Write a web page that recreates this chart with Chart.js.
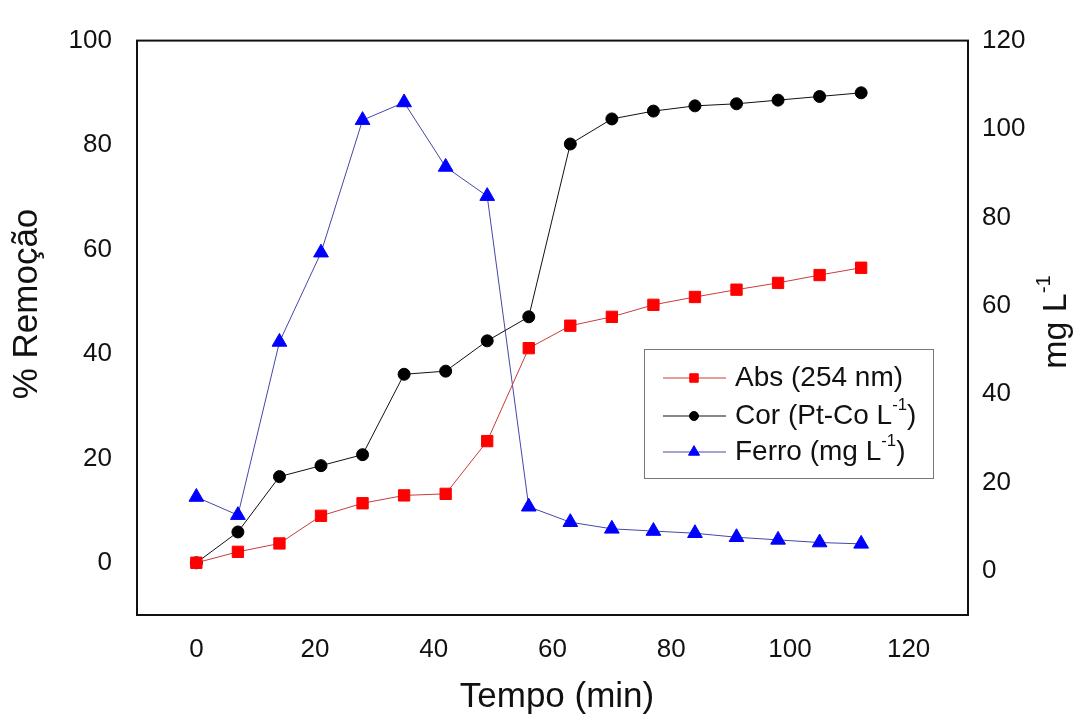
<!DOCTYPE html>
<html>
<head>
<meta charset="utf-8">
<script src="https://cdn.jsdelivr.net/npm/chart.js@4"></script>
<style>
  body { margin: 0; background: #fff; }
  #wrap { width: 1077px; height: 719px; }
</style>
</head>
<body>
<div id="wrap"><canvas id="grafico" width="1077" height="719"></canvas></div>
<script>
// tempo (min)
var tempo = [0, 7, 14, 21, 28, 35, 42, 49, 56, 63, 70, 77, 84, 91, 98, 105, 112];
// % remoção
var abs254 = [0, 2.1, 3.7, 9.0, 11.4, 12.9, 13.2, 23.3, 41.1, 45.4, 47.1, 49.4, 50.9, 52.3, 53.6, 55.1, 56.5];
var cor = [0, 5.9, 16.5, 18.6, 20.7, 36.1, 36.7, 42.5, 47.1, 80.2, 85.0, 86.5, 87.5, 87.9, 88.6, 89.3, 90.0];
// mg L-1
var ferro = [16.7, 12.6, 51.8, 72.0, 102.0, 106.0, 91.4, 84.8, 14.5, 11.0, 9.5, 9.0, 8.5, 7.6, 7.0, 6.4, 6.1];

var xTicks = [0, 20, 40, 60, 80, 100, 120];
var yTicks = [0, 20, 40, 60, 80, 100];
var y1Ticks = [0, 20, 40, 60, 80, 100, 120];

var fonte = "'Liberation Sans', Arial, sans-serif";

function pontos(ys) {
    return tempo.map(function (t, i) { return { x: t, y: ys[i] }; });
}

function soTicks(lista) {
    return function (scale) {
        scale.ticks = lista.map(function (v) { return { value: v }; });
    };
}

function largura(ctx, partes, tam) {
    var larg = 0;
    partes.forEach(function (p) {
        ctx.font = (p[1] ? tam * 0.6 : tam) + "px " + fonte;
        larg += ctx.measureText(p[0]).width;
    });
    return larg;
}

// texto com sobrescrito, ex. [["mg L", false], ["-1", true]], começa em x
function textoRico(ctx, partes, x, y, tam) {
    var cx = x;
    ctx.textAlign = "left";
    ctx.textBaseline = "middle";
    partes.forEach(function (p) {
        ctx.font = (p[1] ? tam * 0.6 : tam) + "px " + fonte;
        ctx.fillText(p[0], cx, p[1] ? y - tam * 0.38 : y);
        cx += ctx.measureText(p[0]).width;
    });
}

var extras = {
    id: 'extras',
    afterDraw: function (chart) {
        var ctx = chart.ctx;
        var a = chart.chartArea;
        ctx.save();
        // moldura
        ctx.strokeStyle = "#111";
        ctx.lineWidth = 2;
        ctx.strokeRect(a.left, a.top, a.right - a.left, a.bottom - a.top);

        ctx.fillStyle = "#111";
        // títulos dos eixos
        ctx.font = "35px " + fonte;
        ctx.textAlign = "center";
        ctx.textBaseline = "middle";
        ctx.fillText("Tempo (min)", 557, 697);

        ctx.save();
        ctx.translate(27, 304);
        ctx.rotate(-Math.PI / 2);
        ctx.font = "35px " + fonte;
        ctx.textAlign = "center";
        ctx.fillText("% Remoção", 0, 0);
        ctx.restore();

        ctx.save();
        ctx.translate(1057, 322);
        ctx.rotate(-Math.PI / 2);
        var pm = [["mg L", false], ["-1", true]];
        textoRico(ctx, pm, -largura(ctx, pm, 34) / 2, 0, 34);
        ctx.restore();

        // legenda
        var lx = 644, ly = 349, lw = 289, lh = 129;
        ctx.fillStyle = "#fff";
        ctx.fillRect(lx, ly, lw, lh);
        ctx.strokeStyle = "#777";
        ctx.lineWidth = 1;
        ctx.strokeRect(lx + 0.5, ly + 0.5, lw, lh);
        var itens = [
            { ds: 0, y: 378, txt: [["Abs (254 nm)", false]] },
            { ds: 1, y: 416, txt: [["Cor (Pt-Co L", false], ["-1", true], [")", false]] },
            { ds: 2, y: 452, txt: [["Ferro (mg L", false], ["-1", true], [")", false]] }
        ];
        itens.forEach(function (it) {
            var d = chart.data.datasets[it.ds];
            ctx.strokeStyle = d.borderColor;
            ctx.lineWidth = 1;
            ctx.beginPath();
            ctx.moveTo(663, it.y);
            ctx.lineTo(726, it.y);
            ctx.stroke();
            ctx.fillStyle = d.pointBackgroundColor;
            ctx.strokeStyle = d.pointBorderColor;
            Chart.helpers.drawPoint(ctx, {
                pointStyle: d.pointStyle, radius: d.pointRadius * 0.75, borderWidth: 1, rotation: 0
            }, 694, it.y);
            ctx.fillStyle = "#111";
            textoRico(ctx, it.txt, 735, it.y, 28);
        });
        ctx.restore();
    }
};

var ctx = document.getElementById('grafico').getContext('2d');
new Chart(ctx, {
    type: 'line',
    data: {
        datasets: [{
            label: 'Abs (254 nm)',
            data: pontos(abs254),
            yAxisID: 'y',
            borderColor: '#c83c3c',
            borderWidth: 1,
            pointStyle: 'rect',
            pointRadius: 8,
            pointBackgroundColor: '#ff0000',
            pointBorderColor: '#ff0000',
            pointBorderWidth: 1
        }, {
            label: 'Cor (Pt-Co L-1)',
            data: pontos(cor),
            yAxisID: 'y',
            borderColor: '#111111',
            borderWidth: 1,
            pointStyle: 'circle',
            pointRadius: 6,
            pointBackgroundColor: '#000000',
            pointBorderColor: '#000000',
            pointBorderWidth: 1
        }, {
            label: 'Ferro (mg L-1)',
            data: pontos(ferro),
            yAxisID: 'y1',
            borderColor: '#4646a8',
            borderWidth: 1,
            pointStyle: 'triangle',
            pointRadius: 8.5,
            pointBackgroundColor: '#0000ff',
            pointBorderColor: '#0000ff',
            pointBorderWidth: 1
        }]
    },
    options: {
        responsive: false,
        animation: false,
        layout: { padding: { top: 25, left: 0, right: 0, bottom: 0 } },
        plugins: {
            legend: { display: false },
            tooltip: { enabled: false }
        },
        scales: {
            x: {
                type: 'linear',
                min: -10, max: 130,
                afterBuildTicks: soTicks(xTicks),
                afterFit: function (s) { s.height = 104; },
                grid: { display: false, drawTicks: false },
                border: { display: false },
                ticks: { font: { size: 26, family: fonte }, color: '#111', padding: 19 }
            },
            y: {
                position: 'left',
                min: -10, max: 100,
                afterBuildTicks: soTicks(yTicks),
                afterFit: function (s) { s.width = 137; },
                grid: { display: false, drawTicks: false },
                border: { display: false },
                ticks: { font: { size: 26, family: fonte }, color: '#111', padding: 25 }
            },
            y1: {
                position: 'right',
                min: -10, max: 120,
                afterBuildTicks: soTicks(y1Ticks),
                afterFit: function (s) { s.width = 109; },
                grid: { display: false, drawTicks: false },
                border: { display: false },
                ticks: { font: { size: 26, family: fonte }, color: '#111', padding: 14 }
            }
        }
    },
    plugins: [extras]
});
</script>
</body>
</html>
